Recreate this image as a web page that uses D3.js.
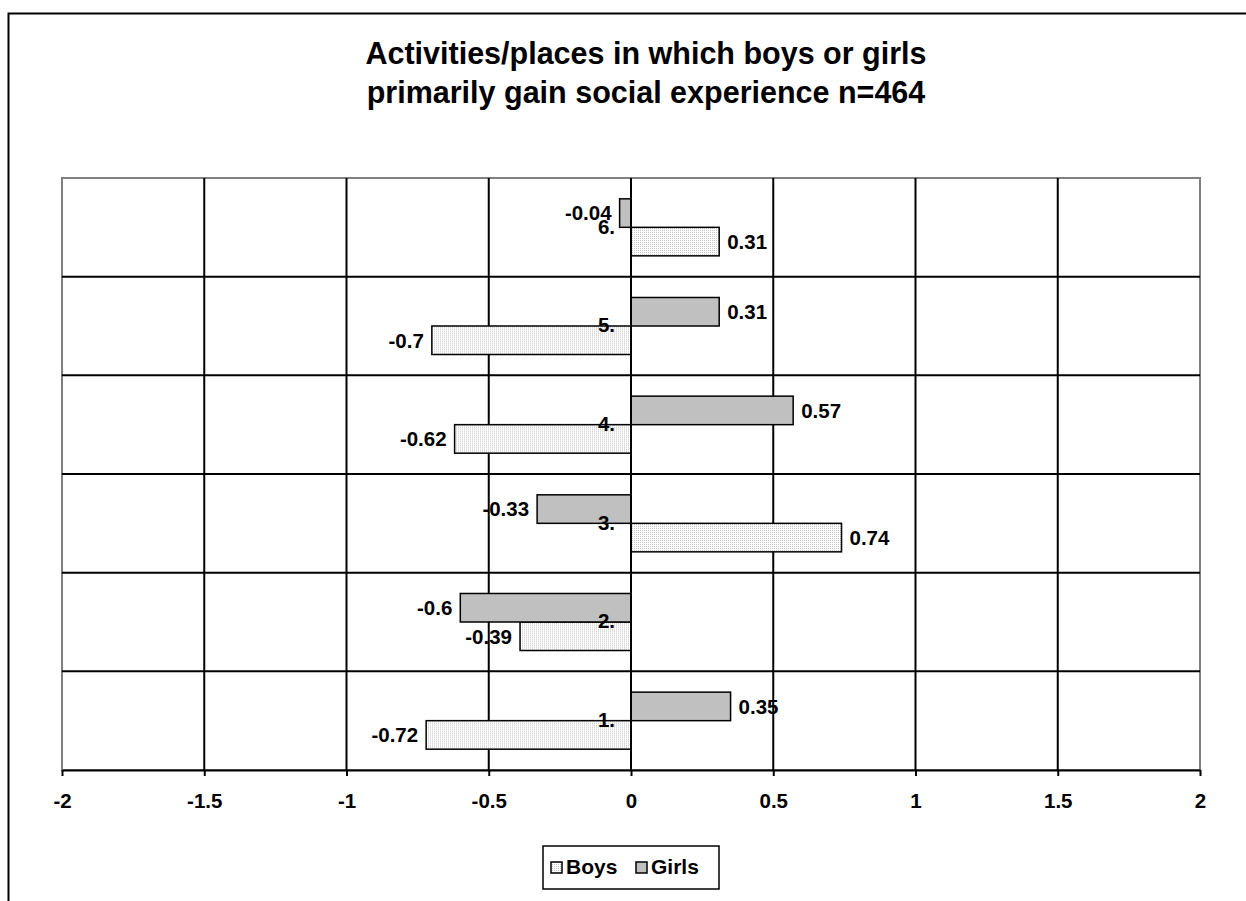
<!DOCTYPE html>
<html>
<head>
<meta charset="utf-8">
<script src="https://cdn.jsdelivr.net/npm/d3@7"></script>
<style>
  html, body { margin: 0; padding: 0; background: #fff; }
  svg { display: block; font-family: "Liberation Sans", Arial, sans-serif; }
</style>
</head>
<body>
<svg id="chart" width="1246" height="901"></svg>
<script>
// Activity categories, listed bottom to top
const categories = ["1.", "2.", "3.", "4.", "5.", "6."];
const seriesNames = ["Boys", "Girls"];
const boysValues  = [-0.72, -0.39, 0.74, -0.62, -0.7, 0.31];
const girlsValues = [0.35, -0.6, -0.33, 0.57, 0.31, -0.04];
const xTicks = [-2, -1.5, -1, -0.5, 0, 0.5, 1, 1.5, 2];
const titleLines = [
  "Activities/places in which boys or girls",
  "primarily gain social experience n=464"
];

const svg = d3.select("#chart");

// patterned fill for the Boys bars
const defs = svg.append("defs");
const pat = defs.append("pattern")
  .attr("id", "dots").attr("width", 2).attr("height", 2)
  .attr("patternUnits", "userSpaceOnUse");
pat.append("rect").attr("width", 2).attr("height", 2).attr("fill", "#ffffff");
pat.append("rect").attr("width", 1).attr("height", 1).attr("fill", "#c4c4c4");

const fills = { Boys: "url(#dots)", Girls: "#c0c0c0" };

// chart frame
svg.append("rect")
  .attr("x", 8.5).attr("y", 13.5).attr("width", 1300).attr("height", 1000)
  .attr("fill", "#fff").attr("stroke", "#000").attr("stroke-width", 2);

// title
const title = svg.append("text")
  .attr("text-anchor", "middle")
  .attr("font-size", 30.5).attr("font-weight", "bold").attr("fill", "#000");
titleLines.forEach((t, i) => {
  title.append("tspan").attr("x", 646).attr("y", 64 + i * 39).text(t);
});

const plot = { left: 62, right: 1200, top: 178, bottom: 770 };

const x = d3.scaleLinear().domain([-2, 2]).range([plot.left, plot.right]);
const y0 = d3.scaleBand()
  .domain(categories.slice().reverse())
  .range([plot.top, plot.bottom]);
const groupFrac = 0.578;
const y1 = d3.scaleBand()
  .domain(["Girls", "Boys"])
  .range([y0.bandwidth() * (1 - groupFrac) / 2, y0.bandwidth() * (1 + groupFrac) / 2]);

// plot area border
svg.append("rect")
  .attr("x", plot.left).attr("y", plot.top)
  .attr("width", plot.right - plot.left).attr("height", plot.bottom - plot.top)
  .attr("fill", "#fff").attr("stroke", "#808080").attr("stroke-width", 2);

// vertical gridlines
svg.append("g").selectAll("line")
  .data(xTicks.filter(d => d !== -2 && d !== 2))
  .join("line")
  .attr("x1", d => x(d)).attr("x2", d => x(d))
  .attr("y1", plot.top).attr("y2", plot.bottom)
  .attr("stroke", "#000").attr("stroke-width", 2);

// horizontal lines between categories
svg.append("g").selectAll("line")
  .data(categories.slice(0, -1))
  .join("line")
  .attr("x1", plot.left).attr("x2", plot.right)
  .attr("y1", d => y0(d)).attr("y2", d => y0(d))
  .attr("stroke", "#000").attr("stroke-width", 2);

// bars
const rows = categories.map((c, i) => ({
  cat: c,
  items: [
    { series: "Boys", value: boysValues[i] },
    { series: "Girls", value: girlsValues[i] }
  ]
}));

const groups = svg.append("g").selectAll("g")
  .data(rows)
  .join("g")
  .attr("transform", d => `translate(0,${y0(d.cat)})`);

groups.selectAll("rect")
  .data(d => d.items)
  .join("rect")
  .attr("x", d => x(Math.min(0, d.value)))
  .attr("width", d => Math.abs(x(d.value) - x(0)))
  .attr("y", d => y1(d.series))
  .attr("height", y1.bandwidth())
  .attr("fill", d => fills[d.series])
  .attr("stroke", "#000").attr("stroke-width", 1.5);

// value labels
groups.selectAll("text.val")
  .data(d => d.items)
  .join("text")
  .attr("class", "val")
  .attr("x", d => d.value < 0 ? x(d.value) - 8 : x(d.value) + 8)
  .attr("y", d => y1(d.series) + y1.bandwidth() / 2)
  .attr("dy", "0.36em")
  .attr("text-anchor", d => d.value < 0 ? "end" : "start")
  .attr("font-size", 20.5).attr("font-weight", "bold").attr("fill", "#000")
  .text(d => String(d.value));

// category axis at zero
svg.append("line")
  .attr("x1", x(0)).attr("x2", x(0))
  .attr("y1", plot.top).attr("y2", plot.bottom)
  .attr("stroke", "#000").attr("stroke-width", 2);

svg.append("g").selectAll("text")
  .data(categories)
  .join("text")
  .attr("x", x(0) - 16)
  .attr("y", d => y0(d) + y0.bandwidth() / 2 - 1)
  .attr("dy", "0.36em")
  .attr("text-anchor", "end")
  .attr("font-size", 20.5).attr("font-weight", "bold").attr("fill", "#000")
  .text(d => d);

// value axis
const xAxis = d3.axisBottom(x)
  .tickValues(xTicks)
  .tickSize(6)
  .tickSizeOuter(0)
  .tickPadding(17)
  .tickFormat(d => String(d));

const axG = svg.append("g")
  .attr("transform", `translate(0,${plot.bottom})`)
  .call(xAxis);
axG.select(".domain").attr("stroke", "#000").attr("stroke-width", 2);
axG.selectAll(".tick line").attr("stroke", "#000").attr("stroke-width", 2);
axG.selectAll(".tick text")
  .attr("font-family", "Liberation Sans, Arial, sans-serif")
  .attr("font-size", 20.5).attr("font-weight", "bold").attr("fill", "#000");

// legend
const legend = svg.append("g");
legend.append("rect")
  .attr("x", 543).attr("y", 846).attr("width", 176).attr("height", 43)
  .attr("fill", "#fff").attr("stroke", "#000").attr("stroke-width", 1.5);
const legendX = { Boys: 551, Girls: 636 };
seriesNames.forEach(s => {
  legend.append("rect")
    .attr("x", legendX[s]).attr("y", 862).attr("width", 11).attr("height", 11)
    .attr("fill", fills[s]).attr("stroke", "#000").attr("stroke-width", 1.5);
  legend.append("text")
    .attr("x", legendX[s] + 15).attr("y", 874)
    .attr("font-size", 21).attr("font-weight", "bold").attr("fill", "#000")
    .text(s);
});
</script>
</body>
</html>
